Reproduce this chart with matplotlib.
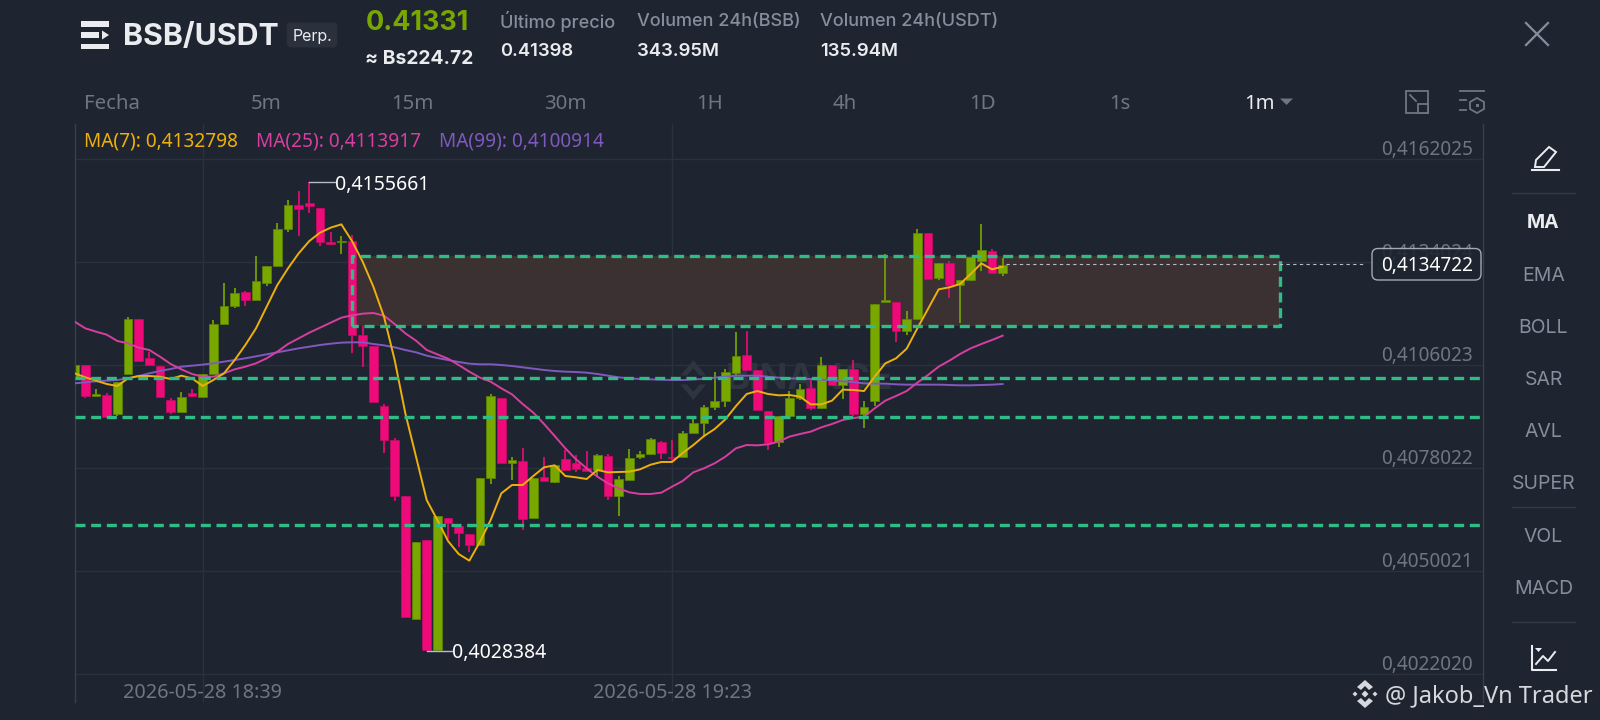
import matplotlib
matplotlib.use("Agg")
import matplotlib.pyplot as plt
from matplotlib.patches import Rectangle, FancyBboxPatch, Polygon

# candles, 1 minute each, index 12 = 18:39 and index 56 = 19:23
opens = [.410285,.410593,.409769,.409796,.409270,.410349,.411844,.410793,.410584,.409642,
         .409316,.409841,.409742,.410349,.411726,.412206,.412587,.412360,.412841,.413285,
         .414300,.414961,.414997,.414870,.413946,.413946,.413973,.411409,.411110,.409497,
         .408564,.407050,.403706,.405836,.402855,.406452,.406217,.406017,.405709,.407521,
         .409714,.407938,.408002,.406443,.407549,.407431,.408038,.407929,.407802,.407748,
         .408138,.407041,.407476,.408111,.408183,.408509,.408111,.408109,.408763,.409035,
         .409460,.409633,.410376,.410874,.410466,.409361,.408509,.409225,.409696,.409986,
         .409424,.410593,.410068,.410494,.409279,.409624,.412324,.412324,.411518,.411862,
         .414200,.412967,.413366,.412777,.412913,.413430,.413701,.413095]
closes = [.410593,.409769,.409814,.409198,.410149,.411844,.410720,.410593,.409742,.409316,
          .409742,.409760,.410349,.411717,.412206,.412551,.412360,.412895,.413285,.414309,
          .414943,.414852,.414925,.413955,.413901,.413973,.411418,.411110,.409596,.408563,
          .407041,.403743,.405791,.402855,.406507,.406316,.406035,.405709,.407521,.409751,
          .407929,.408029,.406416,.407521,.407449,.407875,.407748,.407775,.407721,.408147,
          .407041,.407503,.408065,.408183,.408582,.408210,.408074,.408745,.409016,.409460,
          .409624,.410403,.410856,.410475,.409379,.408473,.409216,.409696,.409950,.409433,
          .410593,.410059,.410484,.409270,.409470,.412270,.412360,.411518,.411862,.414200,
          .412940,.413366,.412768,.412904,.413547,.413729,.413112,.413321]
highs = [.410811,.410593,.409941,.409850,.410149,.411907,.411844,.410965,.410584,.409714,
         .409859,.409941,.410349,.411826,.412822,.412696,.412605,.413557,.413285,.414454,
         .415079,.415324,.415566,.414870,.414218,.414109,.414127,.411672,.411110,.409551,
         .408609,.407050,.405791,.405836,.406507,.406452,.406217,.406017,.407521,.409814,
         .409714,.408101,.408346,.407521,.408101,.407875,.408292,.408156,.408274,.408183,
         .408192,.407585,.408319,.408265,.408618,.408545,.408564,.408808,.409143,.409506,
         .410403,.410484,.411508,.411527,.410466,.409361,.409216,.409905,.410077,.410194,
         .410811,.410611,.410484,.410747,.409633,.412270,.413629,.412324,.412061,.414290,
         .414200,.413366,.413439,.412904,.413547,.414435,.413756,.413520]
lows = [.410240,.409714,.409769,.409198,.409216,.410349,.410720,.410593,.409742,.409261,
        .409316,.409742,.409742,.410349,.411726,.412143,.412215,.412360,.412760,.413285,
        .414218,.414118,.414735,.413846,.413855,.413620,.410938,.410557,.409596,.408219,
        .406905,.403743,.403706,.402838,.402850,.405863,.405646,.405519,.405709,.407377,
        .407929,.407467,.406117,.406443,.407449,.407404,.407748,.407703,.407721,.407567,
        .406942,.406507,.407476,.408056,.408165,.408038,.407970,.408109,.408763,.408654,
        .409379,.409451,.410312,.410475,.409379,.408292,.408364,.409225,.409651,.409379,
        .409406,.410059,.409669,.409225,.408890,.409497,.412324,.411218,.411418,.411862,
        .412940,.412913,.412415,.411753,.412895,.413166,.413112,.413030]

ma7 = [.410376,.410267,.410177,.410086,.410032,.410240,.410303,.410303,.410285,.410222,
       .410312,.410240,.410032,.410195,.410376,.410738,.411146,.411599,.412188,.412777,
       .413230,.413638,.413973,.414200,.414336,.414426,.413973,.413412,.412732,.411916,
       .410738,.409289,.408111,.406932,.406389,.405818,.405464,.405283,.405800,.406389,
       .407114,.407340,.407340,.407585,.407821,.407875,.407585,.407549,.407503,.407748,
       .407685,.407694,.407703,.407766,.407893,.407966,.407966,.408210,.408427,.408672,
       .408862,.409125,.409488,.409814,.409895,.409814,.409778,.409787,.409741,.409533,
       .409533,.409633,.409932,.409923,.409895,.410285,.410648,.410783,.411046,.411599,
       .412125,.412659,.412714,.412804,.413076,.413366,.413203,.413275]
ma25 = [.411780,.411599,.411509,.411427,.411255,.411191,.411074,.411010,.410829,.410630,
        .410485,.410358,.410285,.410285,.410376,.410485,.410557,.410648,.410784,.410965,
        .411173,.411327,.411481,.411617,.411753,.411889,.411953,.411998,.412016,.411944,
        .411717,.411463,.411264,.411010,.410892,.410775,.410603,.410421,.410258,.410149,
        .409968,.409805,.409542,.409307,.408999,.408672,.408337,.408038,.407793,.407567,
        .407386,.407250,.407141,.407096,.407096,.407132,.407295,.407449,.407685,.407794,
        .407930,.408110,.408338,.408427,.408418,.408446,.408518,.408654,.408726,.408790,
        .408908,.408998,.409107,.409161,.409198,.409424,.409633,.409760,.409895,.410122,
        .410330,.410557,.410720,.410901,.411055,.411173,.411282,.411400]
ma99 = [.410104,.410132,.410159,.410177,.410195,.410240,.410303,.410376,.410440,.410494,
        .410557,.410584,.410612,.410648,.410693,.410738,.410784,.410838,.410892,.410947,
        .411001,.411055,.411101,.411146,.411182,.411210,.411219,.411219,.411173,.411137,
        .411083,.411010,.410947,.410856,.410793,.410738,.410684,.410639,.410621,.410621,
        .410603,.410575,.410539,.410503,.410467,.410439,.410421,.410412,.410394,.410358,
        .410313,.410267,.410240,.410222,.410213,.410204,.410195,.410194,.410213,.410222,
        .410258,.410285,.410312,.410312,.410312,.410285,.410258,.410240,.410231,.410222,
        .410204,.410185,.410158,.410140,.410104,.410095,.410095,.410077,.410068,.410068,
        .410068,.410068,.410059,.410050,.410050,.410059,.410068,.410086]

price_ticks = [.4162025,.4134024,.4106023,.4078022,.4050021,.4022020]
price_labels = ["0,4162025","0,4134024","0,4106023","0,4078022","0,4050021","0,4022020"]
time_ticks = [12, 56]
time_labels = ["2026-05-28 18:39", "2026-05-28 19:23"]

support_levels = [.410257, .409197, .406261]
zone_low, zone_high = .411663, .413566
zone_start, zone_end = 26, 113.0
high_idx, high_val = 22, .4155661
low_idx, low_val = 33, .4028384
last_price = .413340

tabs = ["5m", "15m", "30m", "1H", "4h", "1D", "1s"]
tabs_x = [266, 412, 565, 710, 845, 983, 1120]
side_items = ["EMA", "BOLL", "SAR", "AVL", "SUPER", "VOL", "MACD"]
side_y = [276, 328, 380, 432, 484, 537, 589]

BG = "#1f2530"
GRID = "#2c323d"
GREY = "#848e9c"
DIM = "#6e7682"
RED = "#ee0a78"
GREEN = "#78a800"
DASH = "#2fbd85"
CHART_FONT = ["Noto Sans", "DejaVu Sans"]
UI_FONT = ["Inter", "DejaVu Sans"]

fig = plt.figure(figsize=(16, 7.2), dpi=100, facecolor=BG)
# chart axes: px 74.67..1482.67 across, px 124..702 down
ax = fig.add_axes([74.67/1600, 1-702/720, 1408/1600, 578/720], facecolor=BG)
ax.set_xlim(0, 132)
ax.set_ylim(.401441, .417154)
ax.set_xticks(time_ticks)
ax.set_yticks(price_ticks)
ax.set_xticklabels([])
ax.set_yticklabels([])
ax.tick_params(length=0)
ax.grid(True, color=GRID, lw=1)
ax.set_axisbelow(True)
for s in ["top", "bottom"]:
    ax.spines[s].set_visible(False)
for s in ["left", "right"]:
    ax.spines[s].set_color("#3a404b")
    ax.spines[s].set_linewidth(1)

# watermark
mark_y = .410195
ax.annotate("BINANCE", xy=(61, mark_y), fontsize=26.5, fontweight="bold", color="#2e3540",
            family=UI_FONT, va="center", ha="left", zorder=1.2)
for sgn in [1, -1]:
    ax.add_patch(Polygon([(58-1.2, mark_y+sgn*.00012), (58, mark_y+sgn*.00054),
                          (58+1.2, mark_y+sgn*.00012), (58+.6, mark_y+sgn*.00012),
                          (58, mark_y+sgn*.00032), (58-.6, mark_y+sgn*.00012)],
                         closed=True, fc="#2e3540", ec="none", zorder=1.2))

# zone fill
ax.add_patch(Rectangle((zone_start, zone_low), zone_end-zone_start, zone_high-zone_low,
                       fc="#3c3132", ec="none", zorder=1.5))

# candles
for i in range(len(opens)):
    col = GREEN if closes[i] >= opens[i] else RED
    edge = "#5f8600" if closes[i] >= opens[i] else "#c90a68"
    ax.vlines(i, lows[i], highs[i], color=col, lw=1.2, zorder=2)
    ax.bar(i, closes[i]-opens[i], bottom=opens[i], width=.8, color=col, edgecolor=edge, lw=.5, zorder=2.1)

idx = list(range(len(opens)))
ax.plot(idx, ma99, color="#8059bf", lw=1.4, zorder=3)
ax.plot(idx, ma25, color="#d63f9f", lw=1.4, zorder=3.1)
ax.plot(idx, ma7, color="#eeb00c", lw=1.4, zorder=3.2)

# dashed levels and zone outline
dash_style = (0, (3.0, 1.7))
for lv in support_levels:
    ax.axhline(lv, color=DASH, lw=2.4, ls=dash_style, zorder=4)
ax.plot([zone_start, zone_start, zone_end, zone_end, zone_start],
        [zone_low, zone_high, zone_high, zone_low, zone_low],
        color=DASH, lw=2.4, ls=dash_style, zorder=4)

# price line from the last candle
ax.plot([87.3, 121], [last_price, last_price], color="#b7bdc6", lw=.8, ls=(0, (3, 3)), zorder=4.5)

# high / low markers
ax.plot([high_idx, high_idx+2.4], [high_val, high_val], color="#b7bdc6", lw=1, zorder=5)
ax.annotate("0,4155661", xy=(high_idx+2.4, high_val), xytext=(0, -2.2), textcoords="offset points",
            fontsize=14, color="white", family=CHART_FONT, va="center", ha="left", zorder=5)
ax.plot([low_idx, low_idx+2.4], [low_val, low_val], color="#b7bdc6", lw=1, zorder=5)
ax.annotate("0,4028384", xy=(low_idx+2.4, low_val), xytext=(0, -1.7), textcoords="offset points",
            fontsize=14, color="white", family=CHART_FONT, va="center", ha="left", zorder=5)

# axis labels sit above their grid lines
for p, lb in zip(price_ticks, price_labels):
    ax.annotate(lb, xy=(1, p), xycoords=("axes fraction", "data"), xytext=(-7.2, 6.2),
                textcoords="offset points", fontsize=13.7, color=DIM, family=CHART_FONT,
                ha="right", va="center", zorder=5)
for t, lb in zip(time_ticks, time_labels):
    ax.annotate(lb, xy=(t, 0), xycoords=("data", "axes fraction"), xytext=(0, 6.4),
                textcoords="offset points", fontsize=14.25, color=DIM, family=CHART_FONT,
                ha="center", va="center", zorder=5)

# everything else of the app screen, in pixels
ui = fig.add_axes([0, 0, 1, 1], facecolor="none", zorder=5)
ui.set_xlim(0, 1600)
ui.set_ylim(720, 0)
ui.axis("off")


def txt(x, y, s, size=12, color=GREY, weight="normal", ha="left", family=UI_FONT):
    ui.text(x, y, s, fontsize=size, color=color, fontweight=weight, ha=ha, va="center", family=family)


# logo
for y0, w in [(21, 28.5), (43.5, 28.5)]:
    ui.add_patch(Rectangle((80.7, y0), w, 5.5, fc="#eaecef", ec="none"))
ui.add_patch(Rectangle((80.7, 32.2), 18, 5.5, fc="#eaecef", ec="none"))
ui.add_patch(Polygon([(102, 30.5), (109, 35), (102, 39.5)], fc="#eaecef", ec="none"))

txt(123, 37.5, "BSB/USDT", 21.8, "#eaecef", "bold")
ui.add_patch(FancyBboxPatch((288, 24), 48, 22, boxstyle="round,pad=0,rounding_size=3", fc="#2b313c", ec="#2b313c", lw=2))
txt(312, 37, "Perp.", 11.5, "#eaecef", ha="center")
txt(366, 23.5, "0.41331", 19.4, GREEN, "bold")
txt(365, 58.5, "≈ Bs224.72", 13.9, "#eaecef", "bold")
txt(500, 22, "Último precio", 13, GREY, "medium")
txt(500, 51, "0.41398", 13.3, "#eaecef", "semibold")
txt(637, 22, "Volumen 24h(BSB)", 13, GREY, "medium")
txt(637, 51, "343.95M", 13.3, "#eaecef", "semibold")
txt(819.5, 22, "Volumen 24h(USDT)", 13, GREY, "medium")
txt(820, 51, "135.94M", 13.3, "#eaecef", "semibold")
ui.plot([1526, 1548], [23, 45], color=GREY, lw=1.6)
ui.plot([1526, 1548], [45, 23], color=GREY, lw=1.6)

# interval tabs
txt(83.5, 104, "Fecha", 14.7, DIM, family=CHART_FONT)
for x, t in zip(tabs_x, tabs):
    txt(x, 104, t, 14.7, DIM, ha="center", family=CHART_FONT)
txt(1244, 104, "1m", 14.5, "#eaecef", "semibold", family=CHART_FONT)
ui.add_patch(Polygon([(1280, 98.5), (1293, 98.5), (1286.5, 105)], fc=DIM, ec="none"))

# top right icons
ui.add_patch(Rectangle((1405.5, 90.5), 22, 22, fc="none", ec=DIM, lw=1.3))
ui.add_patch(Rectangle((1418, 104), 9.5, 8.5, fc=BG, ec=DIM, lw=1.3))
ui.plot([1410, 1416], [95, 101], color=DIM, lw=1.3)
ui.plot([1460, 1484], [91, 91], color=DIM, lw=1.3)
ui.plot([1460, 1466], [100, 100], color=DIM, lw=1.3)
ui.plot([1460, 1466], [110, 110], color=DIM, lw=1.3)
ui.add_patch(Polygon([(1477, 98), (1484, 102), (1484, 109), (1477, 113), (1470, 109), (1470, 102)],
                     fc="none", ec=DIM, lw=1.3))
ui.add_patch(Rectangle((1475.5, 103.5), 3, 3, fc=DIM, ec="none"))

# MA legend
txt(84.3, 141, "MA(7): 0,4132798", 13.7, "#eeb00c", family=CHART_FONT)
txt(256.4, 141, "MA(25): 0,4113917", 13.7, "#d63f9f", family=CHART_FONT)
txt(438.6, 141, "MA(99): 0,4100914", 13.7, "#8059bf", family=CHART_FONT)

# last price pill
ui.add_patch(FancyBboxPatch((1372, 248.5), 109, 31.5, boxstyle="round,pad=0,rounding_size=6",
                            fc=BG, ec="#b7bdc6", lw=1, alpha=.88))
txt(1472.7, 266.5, "0,4134722", 13.7, "white", ha="right", family=CHART_FONT)

# side panel
ui.plot([1532, 1556], [170, 170], color="#eaecef", lw=1.5)
ui.plot([1558, 1559], [170, 170], color="#eaecef", lw=1.5)
ui.add_patch(Polygon([(1549, 147), (1556, 152), (1544, 167), (1535, 167), (1536, 160)],
                     fc="none", ec="#eaecef", lw=1.4))
for y0 in [193.3, 507, 622]:
    ui.plot([1512, 1575], [y0, y0], color="#343a45", lw=1)
txt(1543.5, 223, "MA", 14, "#eaecef", "bold", ha="center")
for y0, s in zip(side_y, side_items):
    txt(1543.5, y0, s, 14, GREY, ha="center")
ui.plot([1532, 1532, 1556], [646, 670, 670], color="#eaecef", lw=1.5)
ui.plot([1536, 1543, 1548, 1555], [664, 656, 661, 652], color="#eaecef", lw=1.4)
ui.add_patch(Polygon([(1535, 648), (1542, 648), (1538.5, 652)], fc="#eaecef", ec="none"))

# watermark bottom right
ui.add_patch(Polygon([(1357, 687), (1365, 680), (1373, 687), (1369, 690), (1365, 686), (1361, 690)], fc="#d5d8dc", ec="none"))
ui.add_patch(Polygon([(1357, 701), (1365, 708), (1373, 701), (1369, 698), (1365, 702), (1361, 698)], fc="#d5d8dc", ec="none"))
for cx, r in [(1365, 3.5), (1355, 2.5), (1375, 2.5)]:
    ui.add_patch(Polygon([(cx-r, 694), (cx, 694-r), (cx+r, 694), (cx, 694+r)], fc="#d5d8dc", ec="none"))
txt(1385, 696, "@ Jakob_Vn Trader", 17, "#d5d8dc", family=CHART_FONT)

fig.savefig("out.png", dpi=100, facecolor=BG)
